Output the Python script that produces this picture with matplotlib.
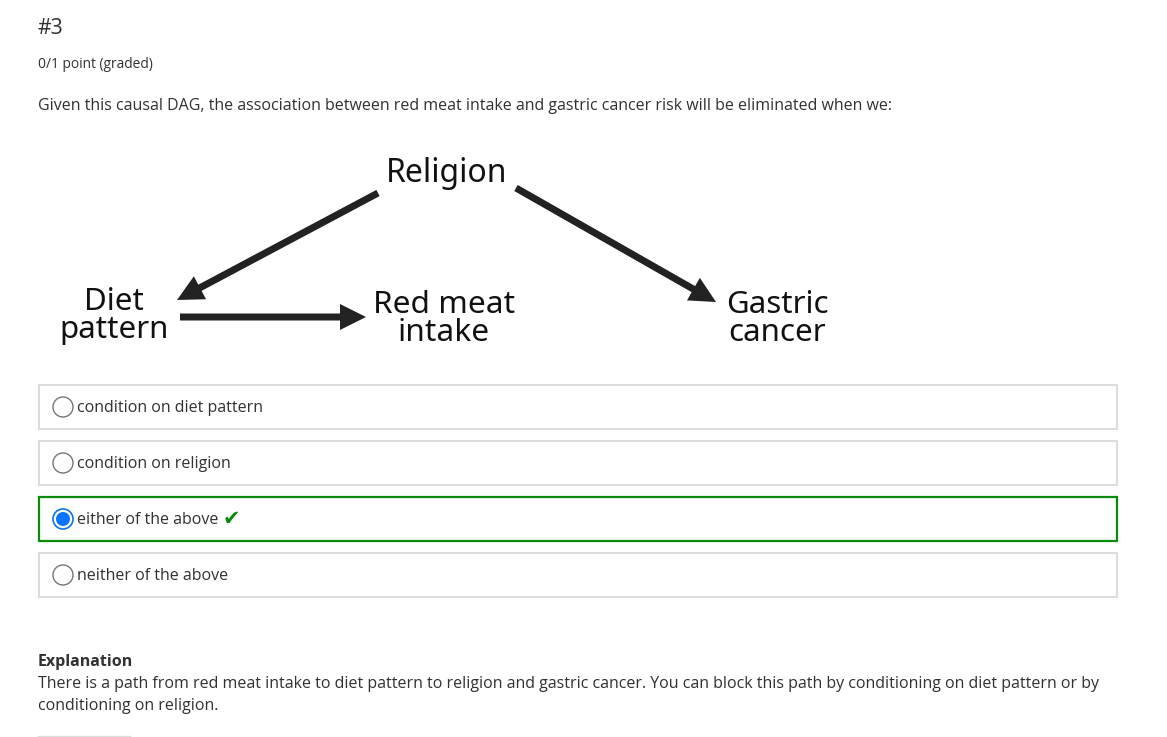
import matplotlib
matplotlib.use("Agg")
import matplotlib.pyplot as plt
from matplotlib.patches import FancyArrow, Rectangle, Circle

# ---- data ----
title = "#3"
points = "0/1 point (graded)"
question = ("Given this causal DAG, the association between red meat intake and "
            "gastric cancer risk will be eliminated when we:")
node_names = ["Religion", "Diet\npattern", "Red meat\nintake", "Gastric\ncancer"]
edges = [("Religion", "Diet\npattern"), ("Diet\npattern", "Red meat\nintake"),
         ("Religion", "Gastric\ncancer")]
options = ["condition on diet pattern", "condition on religion",
           "either of the above", "neither of the above"]
selected = 2
expl_title = "Explanation"
expl_lines = ["There is a path from red meat intake to diet pattern to religion and gastric cancer. "
              "You can block this path by conditioning on diet pattern or by",
              "conditioning on religion."]

# ---- layout (pixel coords) ----
W, H = 1167, 737
fig = plt.figure(figsize=(W / 100, H / 100), dpi=100)
ax = fig.add_axes([0, 0, 1, 1])
ax.set_xlim(0, W)
ax.set_ylim(H, 0)
ax.axis("off")
fig.patch.set_facecolor("white")

FONT = ["Open Sans", "DejaVu Sans"]
DAGFONT = ["Noto Sans", "DejaVu Sans"]
txtc = "#313131"

ax.text(38, 28, title, fontsize=15.3, family=FONT, color=txtc, va="center", ha="left")
ax.text(38, 64, points, fontsize=9.9, family=FONT, color=txtc, va="center", ha="left")
ax.text(38, 105.5, question, fontsize=11.5, family=FONT, color=txtc, va="center", ha="left")

node_pos = {"Religion": (447, 173), "Diet\npattern": (114, 316),
            "Red meat\nintake": (444, 319), "Gastric\ncancer": (777, 319)}
node_size = {"Religion": 23, "Diet\npattern": 22.5, "Red meat\nintake": 22.8,
             "Gastric\ncancer": 22.5}
for n in node_names:
    x, y = node_pos[n]
    ax.text(x, y, n, fontsize=node_size[n], family=DAGFONT, color="#111111", ha="center",
            va="center", linespacing=0.92)

edge_coords = {
    ("Religion", "Diet\npattern"): ((378, 193), (177, 300)),
    ("Diet\npattern", "Red meat\nintake"): ((180, 317), (366, 317)),
    ("Religion", "Gastric\ncancer"): ((516, 188), (716, 302)),
}
for e in edges:
    (x0, y0), (x1, y1) = edge_coords[e]
    ax.add_patch(FancyArrow(x0, y0, x1 - x0, y1 - y0, width=7, head_width=26,
                            head_length=26, length_includes_head=True,
                            color="#222222", lw=0))

box_top = [385, 441, 497, 553]
for i, opt in enumerate(options):
    t = box_top[i]
    ec = "#0b8a0b" if i == selected else "#dddddd"
    ax.add_patch(Rectangle((39, t), 1078, 44, fill=False, ec=ec, lw=1.6 if i == selected else 1.5))
    cy = t + 22
    if i == selected:
        ax.add_patch(Circle((63, cy), 10, fc="white", ec="#0a74f0", lw=1.2))
        ax.add_patch(Circle((63, cy), 7, fc="#0a74ff", ec="none"))
    else:
        ax.add_patch(Circle((63, cy), 10, fc="white", ec="#767676", lw=1.0))
    ax.text(77, cy + 1, opt, fontsize=11.5, family=FONT, color=txtc, va="center", ha="left")
    if i == selected:
        ax.text(223, cy, "\u2714", fontsize=15, family=["DejaVu Sans"], color="#0b8a0b",
                va="center", ha="left")

ax.text(38, 662, expl_title, fontsize=11.5, family=FONT, color=txtc, weight="bold",
        va="center", ha="left")
for k, line in enumerate(expl_lines):
    ax.text(38, 684.5 + 22 * k, line, fontsize=11.5, family=FONT, color=txtc,
            va="center", ha="left")
ax.plot([38, 130], [736, 736], color="#dddddd", lw=1)

fig.savefig("out.png", dpi=100, facecolor="white")
